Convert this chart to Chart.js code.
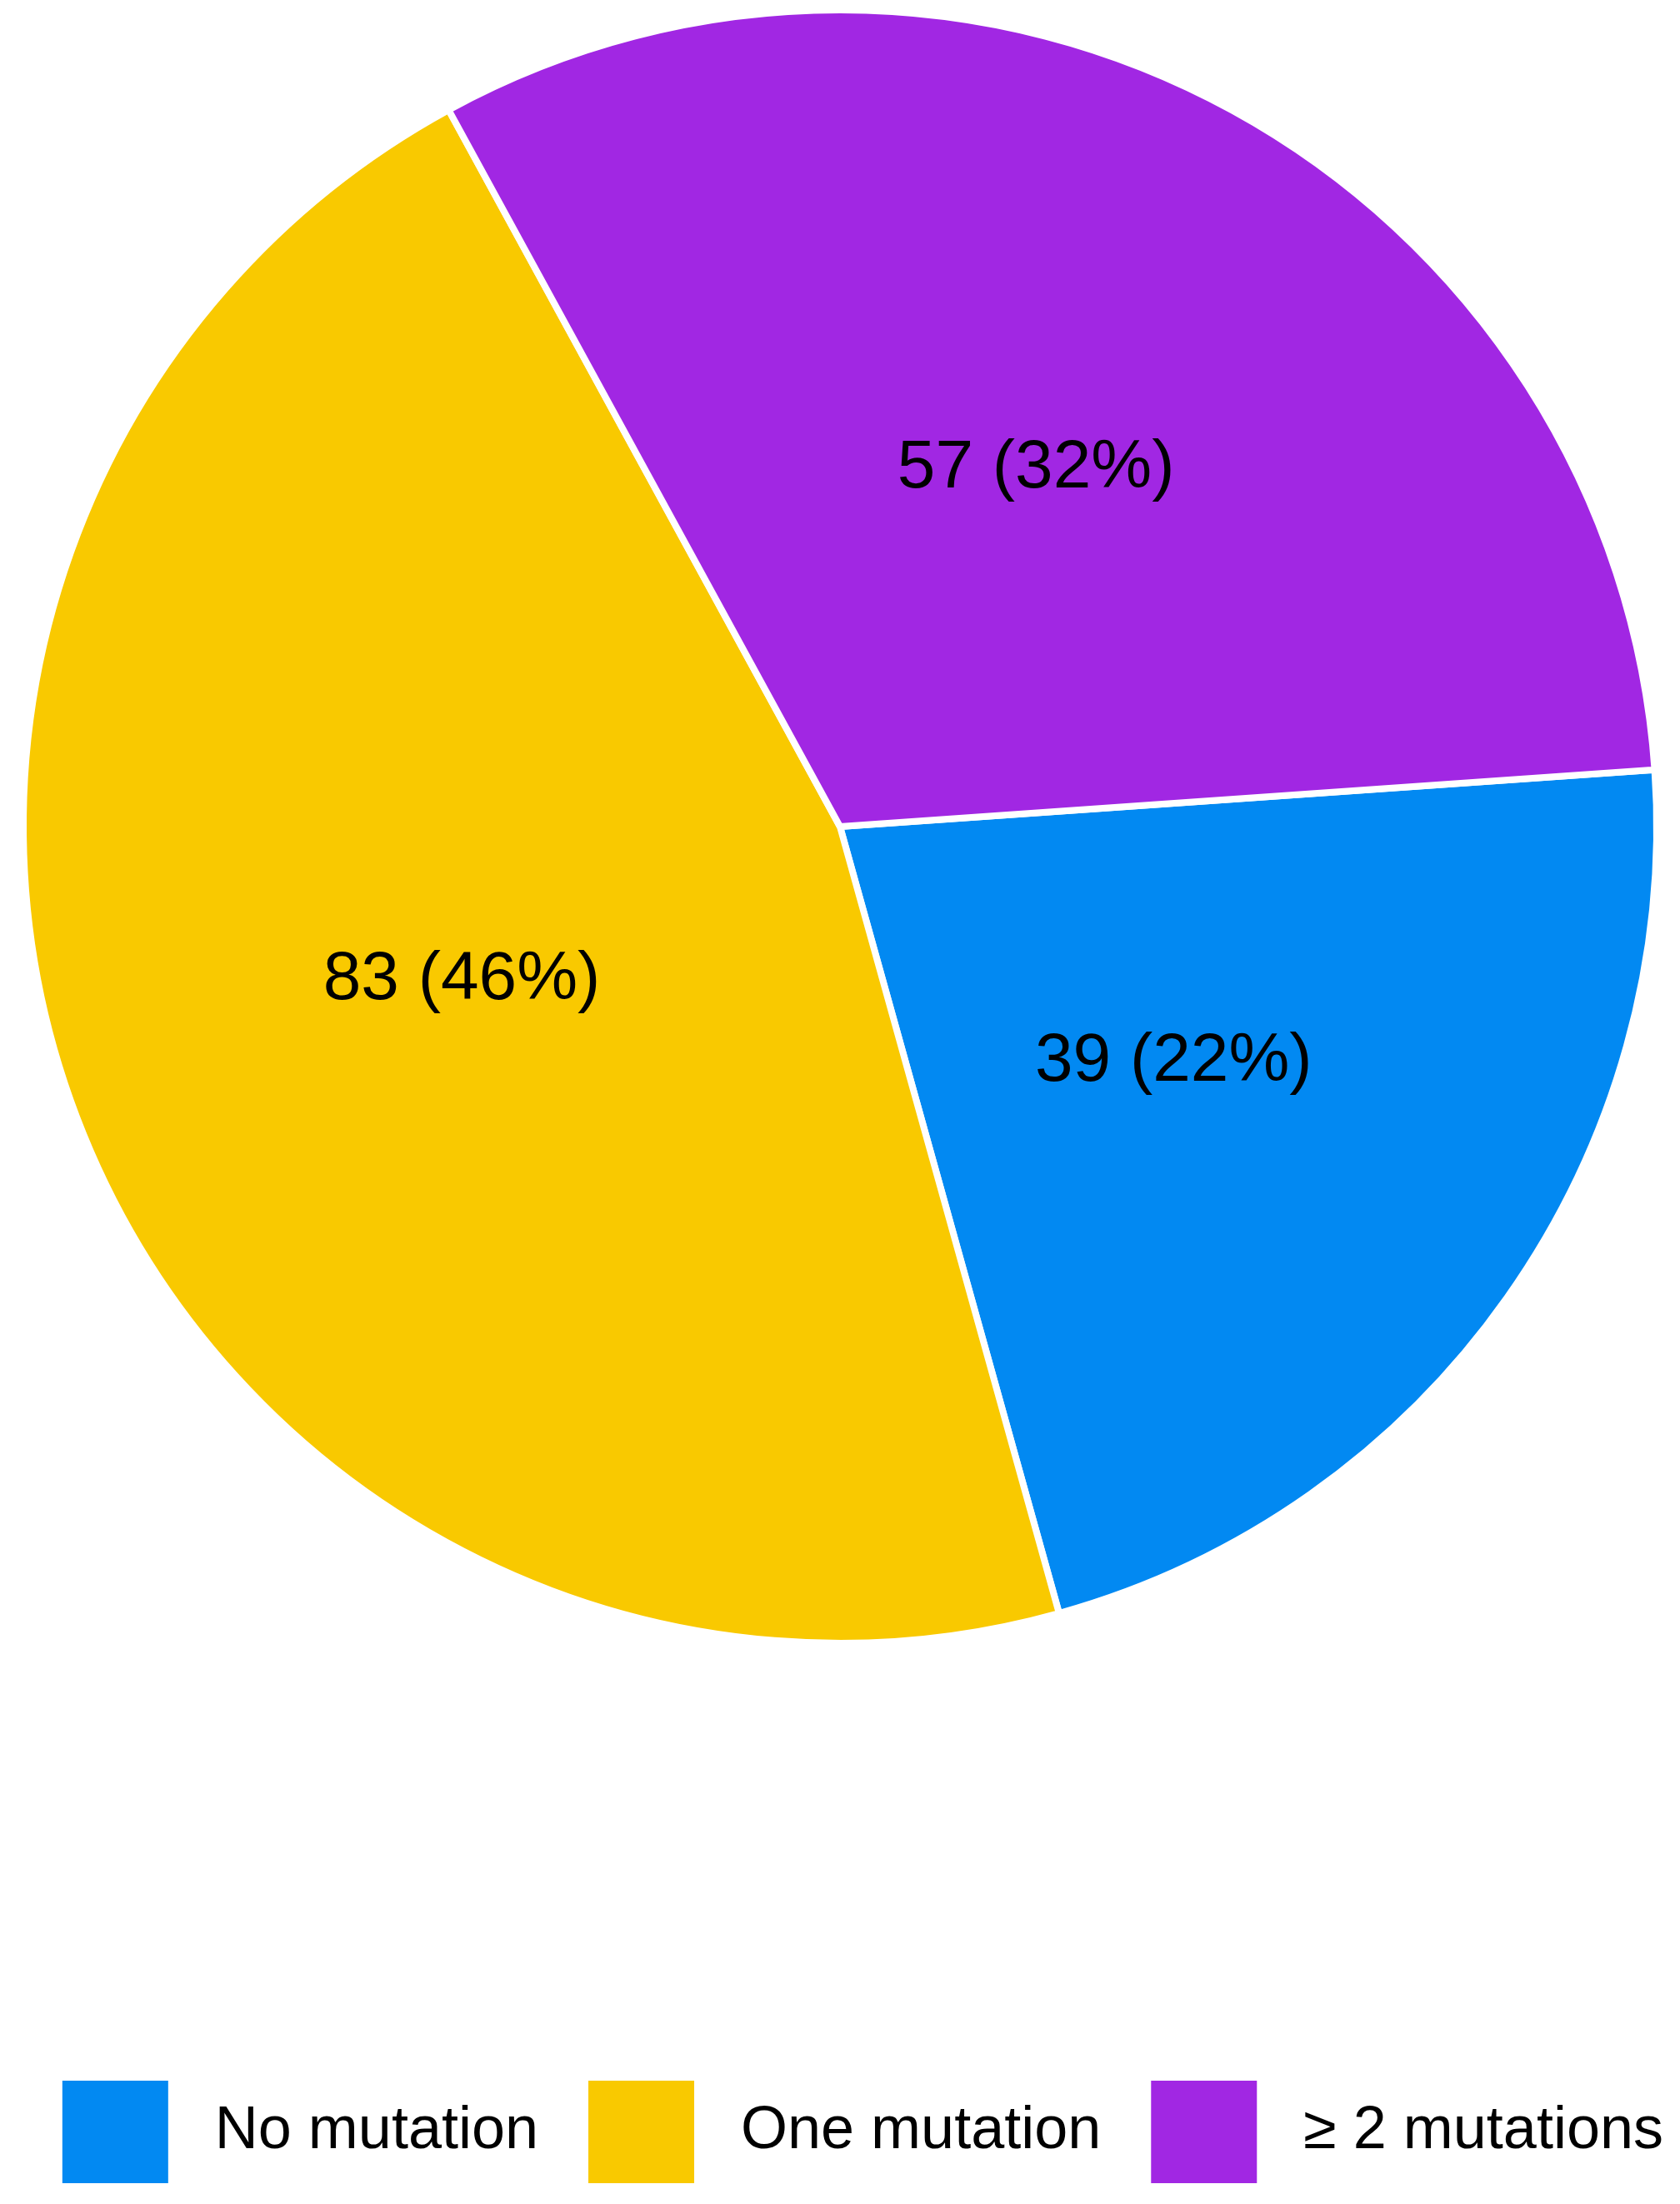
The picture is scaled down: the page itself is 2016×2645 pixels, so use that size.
<!DOCTYPE html>
<html>
<head>
<meta charset="utf-8">
<script src="https://cdn.jsdelivr.net/npm/chart.js@4.4.0/dist/chart.umd.min.js"></script>
<style>
html, body { margin: 0; padding: 0; background: #fff; }
#wrap { width: 2016px; height: 2645px; position: relative; }
</style>
</head>
<body>
<div id="wrap"><canvas id="myChart"></canvas></div>
<script>
var categorie = ['No mutation', 'One mutation', '≥ 2 mutations'];
var pazienti = [39, 83, 57];
var colori = ['#0289f2', '#f9c900', '#a127e3'];

var font = "'Liberation Sans', Arial, sans-serif";

// testo "n (xx%)" a metà raggio di ogni fetta
var etichette = {
    id: 'etichette',
    afterDatasetsDraw: function (chart) {
        var ctx = chart.ctx;
        var meta = chart.getDatasetMeta(0);
        var totale = pazienti.reduce(function (a, b) { return a + b; }, 0);
        ctx.save();
        ctx.font = '82px ' + font;
        ctx.fillStyle = '#000';
        ctx.textAlign = 'center';
        ctx.textBaseline = 'middle';
        meta.data.forEach(function (arc, i) {
            var p = arc.getProps(['x', 'y', 'startAngle', 'endAngle', 'outerRadius']);
            var a = (p.startAngle + p.endAngle) / 2;
            var r = p.outerRadius / 2;
            var perc = Math.round(pazienti[i] / totale * 100);
            ctx.fillText(pazienti[i] + ' (' + perc + '%)', p.x + Math.cos(a) * r, p.y + Math.sin(a) * r);
        });
        ctx.restore();
    }
};

var ctx = document.getElementById('myChart');
var chart = new Chart(ctx, {
    type: 'pie',
    data: {
        labels: categorie,
        datasets: [{
            data: pazienti,
            backgroundColor: colori,
            borderColor: '#ffffff',
            borderWidth: 8
        }]
    },
    options: {
        responsive: true,
        maintainAspectRatio: false,
        animation: false,
        events: [],
        rotation: 86,
        radius: 980,
        layout: { padding: { top: 0, left: 0, right: 0, bottom: 15 } },
        plugins: {
            tooltip: { enabled: false },
            legend: {
                position: 'bottom',
                align: 'end',
                title: { display: true, text: '', font: { size: 10, lineHeight: 1 }, padding: { top: 483, bottom: 0 } },
                labels: {
                    boxWidth: 127,
                    boxHeight: 123,
                    padding: 20,
                    color: '#000',
                    font: { family: font, size: 72 },
                    generateLabels: function (chart) {
                        var items = Chart.overrides.doughnut.plugins.legend.labels.generateLabels(chart);
                        items.forEach(function (item, i) {
                            item.text = ' ' + item.text + (i < items.length - 1 ? '  ' : '');
                            item.lineWidth = 0;
                        });
                        return items;
                    }
                }
            }
        }
    },
    plugins: [etichette]
});
</script>
</body>
</html>
